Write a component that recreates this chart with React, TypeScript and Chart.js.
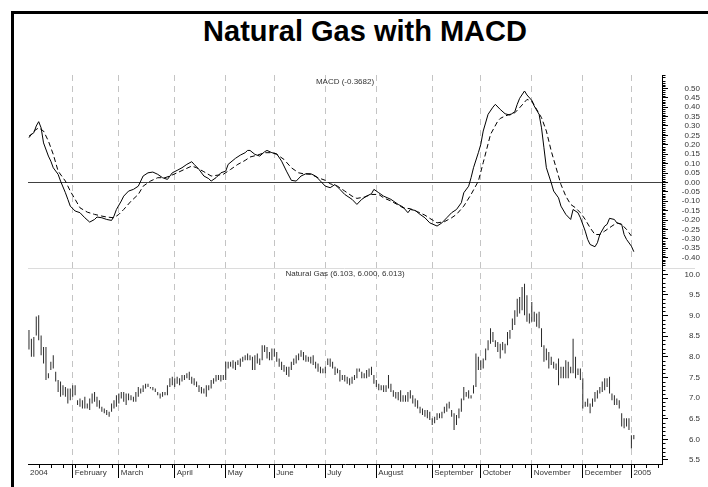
import React, { useEffect, useRef } from 'react';
import { Chart, registerables } from 'chart.js';

Chart.register(...registerables);

const FONT = "'Liberation Sans', Arial, Helvetica, sans-serif";

const chartTitle = 'Natural Gas with MACD';
const macdLabel = 'MACD (-0.3682)';
const priceLabel = 'Natural Gas (6.103, 6.000, 6.013)';

// x axis: trading-day index of the first bar of each month
const monthStarts = [-0.4, 18, 37, 60, 81, 101, 122, 143, 166, 186, 207, 228, 248];
const monthLabels = ['2004', 'February', 'March', 'April', 'May', 'June', 'July', 'August', 'September', 'October', 'November', 'December', '2005'];

const macdTicks = [-0.4, -0.35, -0.3, -0.25, -0.2, -0.15, -0.1, -0.05, 0, 0.05, 0.1, 0.15, 0.2, 0.25, 0.3, 0.35, 0.4, 0.45, 0.5];
const priceTicks = [5.5, 6.0, 6.5, 7.0, 7.5, 8.0, 8.5, 9.0, 9.5, 10.0];

// daily high / low (one entry per trading day)
const priceHigh = [
  8.65, 8.44, 8.48, 8.98, 9.01, 8.52, 8.24, 8.24, 7.60, 7.88,
  8.04, 7.64, 7.44, 7.40, 7.31, 7.27, 7.23, 7.23, 7.31, 7.31,
  6.95, 6.99, 6.95, 7.03, 6.87, 6.99, 7.11, 7.15, 7.03, 6.95,
  6.79, 6.75, 6.71, 6.67, 6.87, 6.95, 7.07, 7.11, 7.15, 7.15,
  7.11, 7.11, 7.07, 7.03, 7.15, 7.27, 7.23, 7.31, 7.35, 7.35,
  7.27, 7.27, 7.23, 7.15, 7.11, 7.15, 7.15, 7.31, 7.48, 7.52,
  7.48, 7.52, 7.48, 7.56, 7.56, 7.60, 7.64, 7.52, 7.48, 7.40,
  7.31, 7.27, 7.23, 7.31, 7.31, 7.44, 7.48, 7.56, 7.56, 7.56,
  7.56, 7.88, 7.88, 7.88, 7.92, 7.88, 7.92, 7.96, 8.00, 8.04,
  8.08, 8.04,
  8.00, 8.04, 8.08, 7.96, 8.28, 8.28, 8.24, 8.12, 8.20, 8.20,
  8.12, 7.96, 7.88, 7.80, 7.76, 7.76, 7.88, 7.96, 8.04, 8.08,
  8.16, 8.12, 8.04, 8.00, 8.00, 8.04, 7.88, 7.84, 7.76, 7.72,
  7.76, 7.96, 7.96, 7.88, 7.76, 7.72, 7.68, 7.56, 7.56, 7.52,
  7.48, 7.52, 7.56, 7.72, 7.72, 7.64, 7.60, 7.68, 7.72, 7.76,
  7.56, 7.44, 7.35, 7.31, 7.31, 7.31, 7.56, 7.35, 7.19, 7.15,
  7.15, 7.19, 7.07, 7.07, 7.15, 7.19, 7.07, 6.99, 6.95, 6.79,
  6.75, 6.71, 6.71, 6.67, 6.51, 6.55, 6.63, 6.63,
  6.67, 6.79, 6.87, 6.91, 6.71, 6.63, 6.59, 6.75, 6.99, 7.27,
  7.15, 7.19, 7.07, 7.31, 8.08, 8.00, 7.92, 7.96, 8.20, 8.40,
  8.69, 8.60, 8.40, 8.36, 8.32, 8.36, 8.32, 8.60, 8.65, 8.93,
  9.13, 9.41, 9.45, 9.69, 9.77, 9.49, 9.05, 9.33, 9.09, 9.05,
  9.09, 8.69, 8.28, 8.20, 8.12, 8.00, 7.88, 7.84, 7.96, 7.76,
  7.76, 7.92, 7.88, 7.76, 8.44, 8.00, 7.72, 7.72, 7.48, 6.91,
  6.99, 6.87, 6.99, 7.15, 7.19, 7.27, 7.40, 7.48, 7.48, 7.52,
  7.11, 7.07, 6.99, 6.95, 6.63, 6.51, 6.51, 6.51, 6.10, 6.103,
];
const priceLow = [
  8.18, 8.00, 8.00, 8.52, 8.40, 8.04, 7.84, 7.44, 7.48, 7.68,
  7.72, 7.40, 7.15, 7.03, 7.07, 7.03, 6.87, 6.95, 7.03, 7.07,
  6.83, 6.79, 6.75, 6.75, 6.75, 6.71, 6.87, 6.91, 6.79, 6.75,
  6.67, 6.63, 6.59, 6.55, 6.67, 6.75, 6.79, 6.87, 6.99, 6.91,
  6.83, 6.95, 6.95, 6.91, 6.91, 7.03, 7.11, 7.15, 7.23, 7.27,
  7.23, 7.19, 7.15, 7.07, 6.99, 7.03, 7.07, 7.07, 7.27, 7.31,
  7.27, 7.35, 7.31, 7.40, 7.44, 7.48, 7.44, 7.35, 7.31, 7.27,
  7.15, 7.11, 7.11, 7.03, 7.19, 7.23, 7.35, 7.40, 7.44, 7.40,
  7.44, 7.44, 7.72, 7.76, 7.72, 7.68, 7.80, 7.76, 7.88, 7.92,
  7.92, 7.92,
  7.68, 7.68, 7.84, 7.80, 7.92, 8.12, 7.96, 7.92, 7.92, 8.00,
  7.88, 7.76, 7.68, 7.64, 7.56, 7.52, 7.68, 7.80, 7.84, 7.92,
  8.00, 7.92, 7.88, 7.88, 7.84, 7.80, 7.72, 7.64, 7.60, 7.60,
  7.60, 7.80, 7.76, 7.72, 7.56, 7.60, 7.40, 7.44, 7.40, 7.35,
  7.31, 7.35, 7.44, 7.48, 7.64, 7.48, 7.48, 7.48, 7.52, 7.56,
  7.35, 7.27, 7.19, 7.19, 7.15, 7.15, 7.23, 7.15, 7.03, 6.99,
  6.95, 6.91, 6.91, 6.91, 6.91, 6.99, 6.87, 6.79, 6.75, 6.63,
  6.59, 6.55, 6.51, 6.47, 6.35, 6.39, 6.47, 6.51,
  6.51, 6.63, 6.67, 6.75, 6.55, 6.23, 6.35, 6.51, 6.67, 6.95,
  7.03, 6.99, 6.99, 7.11, 7.27, 7.68, 7.68, 7.72, 7.92, 8.16,
  8.32, 8.36, 8.24, 8.12, 7.96, 8.16, 8.08, 8.28, 8.44, 8.65,
  8.77, 8.97, 9.05, 9.13, 9.01, 8.85, 8.81, 8.85, 8.85, 8.73,
  8.69, 8.24, 7.88, 7.92, 7.72, 7.80, 7.72, 7.68, 7.31, 7.48,
  7.48, 7.48, 7.48, 7.60, 7.60, 7.48, 7.56, 7.44, 6.75, 6.79,
  6.79, 6.63, 6.79, 6.91, 6.99, 7.11, 7.15, 7.19, 7.27, 7.11,
  6.95, 6.83, 6.83, 6.75, 6.31, 6.27, 6.31, 6.23, 5.78, 6.00,
];

// MACD line (trading-day index, value)
const macdDays = [
  0, 2, 3, 4, 5, 6, 8, 9, 10, 12, 13, 15, 16, 17, 19, 21, 23, 25, 27, 28,
  30, 32, 34, 35, 36, 38, 39, 41, 43, 45, 46, 47, 49, 51, 53, 55, 57, 59, 61, 63,
  65, 67, 68, 70, 72, 74, 75, 77, 79, 81, 82, 85, 87, 89, 90, 91, 93, 95, 97, 98,
  100, 102, 104, 106, 108, 110, 112, 114, 116, 118, 120, 122, 124, 126, 128, 130, 133, 135, 137, 139,
  141, 142, 144, 146, 149, 152, 154, 156, 157, 159, 161, 163, 165, 168, 170, 172, 174, 176, 178, 179,
  181, 182, 183, 185, 186, 187, 189, 191, 192, 194, 196, 198, 200, 201, 202, 204, 205, 207, 208, 210,
  211, 212, 213, 215, 216, 218, 219, 221, 223, 224, 226, 227, 229, 230, 231, 233, 234, 235, 237, 238,
  239, 241, 242, 244, 245, 246, 248, 249,
];
const macdVals = [
  0.246, 0.264, 0.30, 0.323, 0.29, 0.21, 0.14, 0.113, 0.078, 0.043, 0.007, -0.055, -0.09, -0.126, -0.152, -0.161, -0.188, -0.211, -0.197, -0.184,
  -0.188, -0.197, -0.202, -0.179, -0.144, -0.099, -0.073, -0.046, -0.037, -0.02, 0.007, 0.034, 0.051, 0.055, 0.043, 0.025, 0.016, 0.051, 0.064, 0.078,
  0.096, 0.11, 0.096, 0.069, 0.034, 0.02, 0.007, 0.025, 0.051, 0.06, 0.096, 0.128, 0.145, 0.158, 0.17, 0.17, 0.149, 0.14, 0.163, 0.17,
  0.158, 0.152, 0.113, 0.06, 0.011, 0.007, 0.034, 0.046, 0.046, 0.034, 0.007, -0.02, -0.028, -0.011, -0.037, -0.064, -0.09, -0.117, -0.09, -0.073,
  -0.06, -0.037, -0.055, -0.073, -0.09, -0.117, -0.131, -0.161, -0.144, -0.149, -0.17, -0.188, -0.215, -0.232, -0.215, -0.188, -0.161, -0.144, -0.108, -0.055,
  -0.02, 0.025, 0.078, 0.158, 0.202, 0.273, 0.362, 0.40, 0.415, 0.388, 0.365, 0.358, 0.376, 0.415, 0.447, 0.486, 0.465, 0.436, 0.406, 0.362,
  0.29, 0.184, 0.078, -0.002, -0.046, -0.082, -0.126, -0.17, -0.197, -0.144, -0.161, -0.188, -0.259, -0.303, -0.33, -0.342, -0.321, -0.277, -0.232, -0.223,
  -0.191, -0.197, -0.215, -0.223, -0.277, -0.303, -0.339, -0.3682,
];

// Signal line (trading-day index, value)
const signalDays = [
  0, 2, 4, 6, 8, 10, 12, 15, 17, 19, 21, 24, 27, 30, 32, 35, 37, 39, 42, 45,
  47, 50, 53, 56, 58, 61, 64, 67, 69, 72, 75, 78, 80, 83, 86, 89, 91, 94, 97, 100,
  102, 105, 108, 111, 113, 116, 119, 122, 124, 127, 130, 133, 135, 138, 141, 144, 146, 149, 152, 154,
  157, 160, 163, 165, 168, 171, 174, 176, 179, 182, 185, 187, 190, 193, 194, 196, 198, 200, 202, 205,
  207, 209, 211, 213, 215, 217, 219, 221, 223, 225, 227, 229, 231, 233, 235, 237, 240, 242, 244, 246,
  248,
];
const signalVals = [
  0.238, 0.273, 0.29, 0.273, 0.22, 0.149, 0.06, 0.007, -0.046, -0.09, -0.135, -0.158, -0.17, -0.179, -0.184, -0.188, -0.17, -0.144, -0.10, -0.064,
  -0.02, 0.007, 0.025, 0.025, 0.034, 0.051, 0.069, 0.087, 0.078, 0.057, 0.034, 0.039, 0.043, 0.069, 0.096, 0.117, 0.135, 0.145, 0.158, 0.158,
  0.149, 0.122, 0.078, 0.051, 0.046, 0.043, 0.025, 0.011, -0.007, -0.02, -0.046, -0.073, -0.085, -0.078, -0.064, -0.064, -0.082, -0.099, -0.12, -0.135,
  -0.14, -0.156, -0.174, -0.191, -0.215, -0.209, -0.188, -0.17, -0.126, -0.064, 0.007, 0.105, 0.255, 0.326, 0.34, 0.353, 0.362, 0.37, 0.397, 0.441,
  0.433, 0.388, 0.344, 0.273, 0.167, 0.078, -0.011, -0.073, -0.117, -0.135, -0.161, -0.197, -0.241, -0.277, -0.277, -0.259, -0.232, -0.215, -0.223, -0.25,
  -0.285,
];

const decorPlugin = {
  id: 'decor',
  afterDraw(chart: any) {
    const ctx = chart.ctx;
    const { x, yM, yP } = chart.scales;
    const area = chart.chartArea;
    ctx.save();
    // panel separator
    ctx.strokeStyle = '#dcdcdc';
    ctx.lineWidth = 1;
    const sepY = Math.round(yP.top) + 0.5;
    ctx.beginPath();
    ctx.moveTo(area.left, sepY);
    ctx.lineTo(area.right - 1, sepY);
    ctx.moveTo(area.right + 1, sepY);
    ctx.lineTo(area.right + 33, sepY);
    ctx.stroke();
    // minor ticks
    ctx.strokeStyle = '#000';
    ctx.beginPath();
    const rx = Math.round(area.right) + 0.5;
    for (let k = -45; k <= 57; k++) {
      if (k % 5 === 0) continue;
      const py = Math.round(yM.getPixelForValue(k / 100)) + 0.5;
      ctx.moveTo(rx, py);
      ctx.lineTo(rx + 3, py);
    }
    for (let k = 55; k <= 101; k++) {
      if (k % 5 === 0) continue;
      const py = Math.round(yP.getPixelForValue(k / 10)) + 0.5;
      ctx.moveTo(rx, py);
      ctx.lineTo(rx + 3, py);
    }
    const by = Math.round(area.bottom);
    for (let d = 4; d < 260; d += 5) {
      const px = Math.round(x.getPixelForValue(d)) + 0.5;
      ctx.moveTo(px, by);
      ctx.lineTo(px, by + 4);
    }
    ctx.stroke();
    ctx.restore();
  },
};

export default function App() {
  const ref = useRef<HTMLCanvasElement>(null);

  useEffect(() => {
    const canvas = ref.current;
    if (!canvas) return;
    const chart = new Chart(canvas, {
      type: 'bar',
      data: {
        datasets: [
          {
            type: 'line',
            label: 'MACD',
            data: macdDays.map((d, i) => ({ x: d, y: macdVals[i] })),
            xAxisID: 'x',
            yAxisID: 'yM',
            borderColor: '#000',
            borderWidth: 1,
            pointRadius: 0,
            tension: 0,
            fill: false,
          },
          {
            type: 'line',
            label: 'Signal',
            data: signalDays.map((d, i) => ({ x: d, y: signalVals[i] })),
            xAxisID: 'x',
            yAxisID: 'yM',
            borderColor: '#000',
            borderWidth: 1,
            borderDash: [5, 3],
            pointRadius: 0,
            tension: 0,
            fill: false,
          },
          {
            type: 'bar',
            label: 'Natural Gas',
            data: priceHigh.map((h, i) => ({ x: i, y: [priceLow[i], h] })),
            xAxisID: 'x',
            yAxisID: 'yP',
            backgroundColor: '#2a2a2a',
            borderWidth: 0,
            barThickness: 1,
            inflateAmount: 0,
            grouped: false,
          } as any,
        ],
      },
      options: {
        responsive: false,
        animation: false,
        devicePixelRatio: 1,
        events: [],
        layout: { padding: { left: 28, top: 75, right: 8, bottom: 3 } },
        plugins: {
          legend: { display: false },
          tooltip: { enabled: false },
          title: { display: false },
        },
        scales: {
          x: {
            type: 'linear',
            position: 'bottom',
            min: -0.4,
            max: 260.6,
            offset: false,
            afterBuildTicks: (s: any) => {
              s.ticks = monthStarts.map((v) => ({ value: v }));
            },
            afterFit: (s: any) => {
              s.height = 20;
            },
            ticks: {
              autoSkip: false,
              maxRotation: 0,
              minRotation: 0,
              align: 'start',
              labelOffset: 2,
              padding: -10,
              color: '#333',
              font: { family: FONT, size: 8 },
              callback: (_v: any, i: number) => monthLabels[i],
            },
            grid: {
              offset: false,
              drawOnChartArea: true,
              tickLength: 14,
              lineWidth: 1,
              color: (c: any) => (c.index === 0 ? 'rgba(0,0,0,0)' : '#c4c4c4'),
              tickColor: (c: any) => (c.index === 0 ? 'rgba(0,0,0,0)' : '#000'),
            },
            border: { display: true, color: '#000', width: 1, dash: [6, 5] },
          },
          yM: {
            type: 'linear',
            position: 'right',
            stack: 'panels',
            stackWeight: 193,
            min: -0.455,
            max: 0.571,
            beginAtZero: false,
            afterBuildTicks: (s: any) => {
              s.ticks = macdTicks.map((v) => ({ value: v }));
            },
            afterFit: (s: any) => {
              s.width = 38;
            },
            ticks: {
              autoSkip: false,
              crossAlign: 'far',
              padding: 7,
              color: '#333',
              font: { family: FONT, size: 8 },
              callback: (v: any) => Number(v).toFixed(2),
            },
            grid: {
              tickLength: 6,
              color: (c: any) => (c.tick && Math.abs(c.tick.value) < 1e-9 ? '#404040' : 'rgba(0,0,0,0)'),
              tickColor: '#000',
            },
            border: { display: true, color: '#000', width: 1 },
          },
          yP: {
            type: 'linear',
            position: 'right',
            stack: 'panels',
            stackWeight: 196,
            min: 5.403,
            max: 10.153,
            beginAtZero: false,
            afterBuildTicks: (s: any) => {
              s.ticks = priceTicks.map((v) => ({ value: v }));
            },
            afterFit: (s: any) => {
              s.width = 38;
            },
            ticks: {
              autoSkip: false,
              crossAlign: 'far',
              padding: 9.5,
              color: '#333',
              font: { family: FONT, size: 8 },
              callback: (v: any) => Number(v).toFixed(1),
            },
            grid: {
              tickLength: 6,
              color: 'rgba(0,0,0,0)',
              tickColor: '#000',
            },
            border: { display: true, color: '#000', width: 1 },
          },
        },
      } as any,
      plugins: [decorPlugin],
    });
    return () => chart.destroy();
  }, []);

  return (
    <div
      style={{
        position: 'fixed',
        left: 0,
        top: 0,
        width: 708,
        height: 487,
        overflow: 'hidden',
        background: '#fff',
      }}
    >
      <div
        style={{
          position: 'absolute',
          left: 11,
          top: 11,
          width: 800,
          height: 600,
          border: '3px solid #000',
        }}
      />
      <div
        style={{
          position: 'absolute',
          left: 0,
          top: 17,
          width: 730,
          textAlign: 'center',
          fontFamily: FONT,
          fontWeight: 'bold',
          fontSize: 29,
          lineHeight: '29px',
          color: '#000',
          whiteSpace: 'nowrap',
        }}
      >
        {chartTitle}
      </div>
      <canvas
        ref={ref}
        width={708}
        height={487}
        style={{ position: 'absolute', left: 0, top: 0, width: 708, height: 487 }}
      />
      <div
        style={{
          position: 'absolute',
          left: 245,
          top: 78,
          width: 200,
          textAlign: 'center',
          fontFamily: FONT,
          fontSize: 8,
          lineHeight: '8px',
          color: '#333',
          whiteSpace: 'nowrap',
        }}
      >
        {macdLabel}
      </div>
      <div
        style={{
          position: 'absolute',
          left: 245,
          top: 270,
          width: 200,
          textAlign: 'center',
          fontFamily: FONT,
          fontSize: 8,
          lineHeight: '8px',
          color: '#333',
          whiteSpace: 'nowrap',
        }}
      >
        {priceLabel}
      </div>
    </div>
  );
}
